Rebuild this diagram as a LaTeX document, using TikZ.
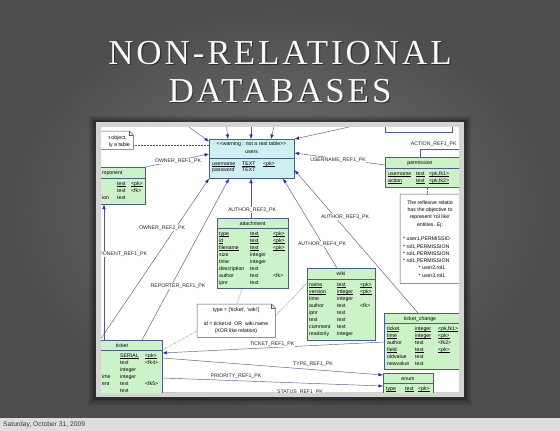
\documentclass[tikz,border=0pt]{standalone}
\usepackage{fontspec}
\setmainfont{Liberation Serif}
\newfontfamily\ttlfont{Liberation Serif}[LetterSpace=8.4]
\newfontfamily\dgfont{Liberation Sans}[Ligatures=TeXOff]
\newfontfamily\footfont{Liberation Sans}
\usetikzlibrary{arrows.meta}
\definecolor{bgin}{RGB}{118,118,120}
\definecolor{bgout}{RGB}{76,76,78}
\definecolor{framec}{RGB}{212,212,212}
\definecolor{tgreen}{RGB}{204,242,200}
\definecolor{tcyan}{RGB}{206,240,242}
\definecolor{tborder}{RGB}{70,95,140}
\definecolor{lnc}{RGB}{80,90,150}
\definecolor{arrc}{RGB}{25,45,185}
\definecolor{notec}{RGB}{90,80,130}
\definecolor{footc}{RGB}{222,222,222}
\definecolor{foottext}{RGB}{55,55,55}
\definecolor{titlec}{RGB}{248,248,248}
\tikzset{
 tbl/.style={draw=tborder, line width=0.5pt, fill=tgreen, inner sep=0pt, anchor=north west},
 cell/.style={font=\dgfont\fontsize{5.2}{6}\selectfont, inner sep=0pt, anchor=mid west, text=black},
 ccell/.style={cell, anchor=mid},
 ecell/.style={cell, anchor=mid east},
 lbl/.style={font=\dgfont\fontsize{5.2}{6}\selectfont, inner sep=0.7pt, fill=white, anchor=mid, text=black!85},
 conn/.style={draw=lnc, line width=0.45pt, -{Latex[length=4.5pt,width=3.4pt,color=arrc]}},
 dotlink/.style={draw=notec, line width=0.5pt, densely dotted},
 notebox/.style={draw=none, inner sep=0pt, anchor=north west},
 sepline/.style={draw=tborder, line width=0.5pt},
 titlefont/.style={font=\ttlfont\fontsize{35}{35}\selectfont, inner sep=0pt, anchor=base},
}
\newcommand\ulx[1]{\setbox0\hbox{#1}\rlap{\rule[-0.8pt]{\wd0}{0.25pt}}\box0}
\newcommand\tx[4]{\node[cell] (#1) at (#2,#3) {#4};}
\newcommand\ux[4]{\node[cell] (#1) at (#2,#3) {\ulx{#4}};}
\newcommand\notefold[1]{%
 \draw[draw=notec, fill=white, line width=0.5pt] (#1.north west) -- ([xshift=-4pt]#1.north east) -- ([yshift=-4pt]#1.north east) -- (#1.south east) -- (#1.south west) -- cycle;
 \draw[draw=notec, line width=0.5pt] ([xshift=-4pt]#1.north east) -- ([xshift=-4pt,yshift=-4pt]#1.north east) -- ([yshift=-4pt]#1.north east);}
\begin{document}
\begin{tikzpicture}[x=1pt,y=-1pt]
\useasboundingbox (0,0) rectangle (560,431);
% slide background
\shade[inner color=bgin, outer color=bgout] (0,0) rectangle (560,418);
\fill[footc] (0,418) rectangle (560,431);
\node[font=\footfont\fontsize{6.7}{8}\selectfont, text=foottext, anchor=mid west, inner sep=0pt] (foot) at (3,424.5) {Saturday, October 31, 2009};
% title
\node[titlefont, text=black, opacity=0.45] (t1s) at (281.2,65.2) {NON-RELATIONAL};
\node[titlefont, text=titlec] (t1) at (280,64) {NON-RELATIONAL};
\node[titlefont, text=black, opacity=0.45] (t2s) at (281.2,103.2) {DATABASES};
\node[titlefont, text=titlec] (t2) at (280,102) {DATABASES};
% frame with shadow
\fill[black, opacity=0.12] (89,116) rectangle (471,405);
\fill[black, opacity=0.15] (91,118) rectangle (469,402);
\fill[black, opacity=0.2] (93,120) rectangle (467,400);
\fill[framec] (96,122) rectangle (464,397);
\fill[white] (101,127) rectangle (459,392);
\begin{scope}
\clip (101,127) rectangle (459,392);
% ---------- tables ----------
\node[tbl, fill=tcyan, minimum width=85pt, minimum height=39pt] (users) at (209,139) {};
\draw[sepline] (users.west |- 0,158) -- (users.east |- 0,158);
\node[ccell] (uh1) at (251.5,143.5) {<<warning : not a real table>>};
\node[ccell] (uh2) at (251.5,151.5) {users};
\ux{u1a}{212}{163}{username} \ux{u1b}{242}{163}{TEXT} \ux{u1c}{263}{163}{<pk>}
\tx{u2a}{212}{169.5}{password} \tx{u2b}{242}{169.5}{TEXT}

\node[tbl, minimum width=60pt, minimum height=37pt] (component) at (85,167) {};
\draw[sepline] (component.west |- 0,178) -- (component.east |- 0,178);
\tx{ch}{102}{172.5}{mponent}
\ux{c1a}{117}{183.5}{text} \ux{c1b}{131}{183.5}{<pk>}
\tx{c2a}{117}{190.5}{text} \tx{c2b}{131}{190.5}{<fk>}
\tx{c3n}{102}{197.5}{ion} \tx{c3a}{117}{197.5}{text}

\node[tbl, minimum width=71pt, minimum height=70pt] (attachment) at (217,218) {};
\draw[sepline] (attachment.west |- 0,228) -- (attachment.east |- 0,228);
\node[ccell] (ah) at (252.5,223) {attachment};
\ux{a1a}{219}{233}{type} \ux{a1b}{250}{233}{text} \ux{a1c}{273}{233}{<pk>}
\ux{a2a}{219}{240}{id} \ux{a2b}{250}{240}{text} \ux{a2c}{273}{240}{<pk>}
\ux{a3a}{219}{247}{filename} \ux{a3b}{250}{247}{text} \ux{a3c}{273}{247}{<pk>}
\tx{a4a}{219}{254}{size} \tx{a4b}{250}{254}{integer}
\tx{a5a}{219}{261}{time} \tx{a5b}{250}{261}{integer}
\tx{a6a}{219}{268}{description} \tx{a6b}{250}{268}{text}
\tx{a7a}{219}{275}{author} \tx{a7b}{250}{275}{text} \tx{a7c}{273}{275}{<fk>}
\tx{a8a}{219}{282}{ipnr} \tx{a8b}{250}{282}{text}

\node[tbl, minimum width=68pt, minimum height=72pt] (wiki) at (307,268) {};
\draw[sepline] (wiki.west |- 0,279) -- (wiki.east |- 0,279);
\node[ccell] (wh) at (341,273.5) {wiki};
\ux{w1a}{309}{284}{name} \ux{w1b}{337}{284}{text} \ux{w1c}{360}{284}{<pk>}
\ux{w2a}{309}{291}{version} \ux{w2b}{337}{291}{integer} \ux{w2c}{360}{291}{<pk>}
\tx{w3a}{309}{298}{time} \tx{w3b}{337}{298}{integer}
\tx{w4a}{309}{305}{author} \tx{w4b}{337}{305}{text} \tx{w4c}{360}{305}{<fk>}
\tx{w5a}{309}{312}{ipnr} \tx{w5b}{337}{312}{text}
\tx{w6a}{309}{319}{text} \tx{w6b}{337}{319}{text}
\tx{w7a}{309}{326}{comment} \tx{w7b}{337}{326}{text}
\tx{w8a}{309}{333}{readonly} \tx{w8b}{337}{333}{integer}

\node[tbl, minimum width=86pt, minimum height=56pt] (tchange) at (384,313) {};
\draw[sepline] (tchange.west |- 0,323) -- (tchange.east |- 0,323);
\node[ccell] (tch) at (420,318) {ticket\_change};
\ux{k1a}{387}{328}{ticket} \ux{k1b}{415}{328}{integer} \ux{k1c}{438}{328}{<pk,fk1>}
\ux{k2a}{387}{335}{time} \ux{k2b}{415}{335}{integer} \ux{k2c}{438}{335}{<pk>}
\tx{k3a}{387}{342}{author} \tx{k3b}{415}{342}{text} \tx{k3c}{438}{342}{<fk2>}
\ux{k4a}{387}{349}{field} \ux{k4b}{415}{349}{text} \ux{k4c}{438}{349}{<pk>}
\tx{k5a}{387}{356}{oldvalue} \tx{k5b}{415}{356}{text}
\tx{k6a}{387}{363}{newvalue} \tx{k6b}{415}{363}{text}

\node[tbl, minimum width=50pt, minimum height=27pt] (enum) at (383,373) {};
\draw[sepline] (enum.west |- 0,383) -- (enum.east |- 0,383);
\node[ccell] (eh) at (408,378.5) {enum};
\ux{e1a}{386}{388.5}{type} \ux{e1b}{405}{388.5}{text} \ux{e1c}{418}{388.5}{<pk>}

\node[tbl, minimum width=72pt, minimum height=60pt] (ticket) at (90,340) {};
\draw[sepline] (ticket.west |- 0,350) -- (ticket.east |- 0,350);
\node[ccell] (th) at (122,345) {ticket};
\ux{t1a}{120}{355}{SERIAL} \ux{t1b}{145}{355}{<pk>}
\tx{t2a}{120}{362}{text} \tx{t2b}{145}{362}{<fk4>}
\tx{t3a}{120}{369}{integer}
\tx{t4n}{102}{376}{ime} \tx{t4a}{120}{376}{integer}
\tx{t5n}{102}{383}{ent} \tx{t5a}{120}{383}{text} \tx{t5b}{145}{383}{<fk5>}
\tx{t6a}{120}{390}{text}

\node[tbl, minimum width=85pt, minimum height=30pt] (permission) at (385,157) {};
\draw[sepline] (permission.west |- 0,168) -- (permission.east |- 0,168);
\node[ccell] (ph) at (420,162.5) {permission};
\ux{p1a}{388}{173}{username} \ux{p1b}{416}{173}{text} \ux{p1c}{429}{173}{<pk,fk1>}
\ux{p2a}{388}{180}{action} \ux{p2b}{416}{180}{text} \ux{p2c}{429}{180}{<pk,fk2>}

\node[tbl, fill=white, minimum width=67pt, minimum height=22pt] (topbox) at (385,110) {};

% ---------- notes ----------
\node[notebox, minimum width=53pt, minimum height=18pt] (noteTL) at (80,131) {};
\notefold{noteTL}
\node[ecell] (ntl1) at (127,137) {t object,};
\node[ecell] (ntl2) at (130,144) {ly a table};

\node[notebox, minimum width=78pt, minimum height=33pt] (noteM) at (197,304) {};
\notefold{noteM}
\node[ccell] (nm1) at (236,309.5) {type = ['ticket', 'wiki']};
\node[ccell] (nm2) at (236,323) {id = ticket.id\ \ OR\ \ wiki.name};
\node[ccell] (nm3) at (236,330) {(XOR like relation)};

\node[notebox, minimum width=70pt, minimum height=89pt] (noteR) at (400,194) {};
\notefold{noteR}
\node[ccell] (nr1) at (430,202) {The reflexive relatio};
\node[ccell] (nr2) at (430,209.3) {has the objective to};
\node[ccell] (nr3) at (430,216.6) {represent 'rol like'};
\node[ccell] (nr4) at (430,223.9) {entities. Ej:};
\tx{nr5}{403}{238.5}{* user1,PERMISSIO}
\tx{nr6}{403}{245.8}{* rol1,PERMISSION}
\tx{nr7}{403}{253.1}{* rol1,PERMISSION}
\tx{nr8}{403}{260.4}{* rol1,PERMISSION}
\node[ccell] (nr9) at (432,267.7) {* user2,rol1};
\node[ccell] (nr10) at (432,275) {* user3,rol1};

% ---------- connectors ----------
\coordinate (tl1) at (182,122);
\coordinate (tp1) at (226,122);
\coordinate (tp2) at (251,122);
\coordinate (tp3) at (275,122);
\coordinate (tr1) at (372,122);
\coordinate (ar1) at (470,149);
\draw[conn] (tl1) -- (users.west |- 0,141.5);
\draw[conn] (tp1) -- (228,0 |- users.north);
\draw[conn] (tp2) -- (251,0 |- users.north);
\draw[conn] (tp3) -- (271,0 |- users.north);
\draw[conn] (tr1) -- (users.north east);
\draw[conn] (component.north east) -- (users.west |- 0,154);
\draw[conn] (permission.west |- 0,165) -- (users.east |- 0,153);
\draw[conn] (418,0 |- tchange.north) -- (users.east |- 0,170);
\draw[conn] (337,0 |- wiki.north) -- (283,0 |- users.south);
\draw[conn] (251,0 |- attachment.north) -- (251,0 |- users.south);
\draw[conn] (142,0 |- ticket.north) -- (229,0 |- users.south);
\draw[conn] (100,0 |- ticket.north) -- (users.south west);
\draw[conn] (104,0 |- ticket.north) -- (104,0 |- component.south);
\draw[conn] (tchange.west |- 0,342) -- (ticket.east |- 0,353);
\draw[conn] (ticket.east |- 0,358) -- (enum.west |- 0,375);
\draw[conn] (ticket.east |- 0,378) -- (enum.west |- 0,386);
\draw[conn] (ticket.east |- 0,393) -- (enum.west |- 0,397);
\draw[conn] (420,0 |- permission.north) |- (ar1);
% dotted note links
\draw[dotlink] (noteTL.east |- 0,145) -- (users.west |- 0,145);
\draw[dotlink] (242,0 |- attachment.south) -- (237,0 |- noteM.north);
\draw[dotlink] (noteM.east |- 0,316) -- (wiki.west |- 0,283);
\draw[dotlink] (noteM.west |- 0,331) -- (ticket.east |- 0,350);
\draw[dotlink] (427,0 |- permission.south) -- (427,0 |- noteR.north);

% ---------- labels ----------
\node[lbl] (lo1) at (178,160) {OWNER\_REF1\_PK};
\node[lbl] (lu1) at (338,159) {USERNAME\_REF1\_PK};
\node[lbl] (la2) at (252,209) {AUTHOR\_REF2\_PK};
\node[lbl] (la3) at (345,216) {AUTHOR\_REF3\_PK};
\node[lbl] (la4) at (322,243) {AUTHOR\_REF4\_PK};
\node[lbl] (lo2) at (162,227) {OWNER\_REF2\_PK};
\node[lbl, anchor=mid east] (lc1) at (148,253) {COMPONENT\_REF1\_PK};
\node[lbl] (lr1) at (178,285) {REPORTER\_REF1\_PK};
\node[lbl] (lt1) at (272,343) {TICKET\_REF1\_PK};
\node[lbl] (lty) at (313,363) {TYPE\_REF1\_PK};
\node[lbl] (lpr) at (236,375) {PRIORITY\_REF1\_PK};
\node[lbl] (lst) at (300,391.5) {STATUS\_REF1\_PK};
\node[lbl, anchor=mid west] (lac) at (410,143) {ACTION\_REF1\_PK};
\end{scope}
\end{tikzpicture}
\end{document}
